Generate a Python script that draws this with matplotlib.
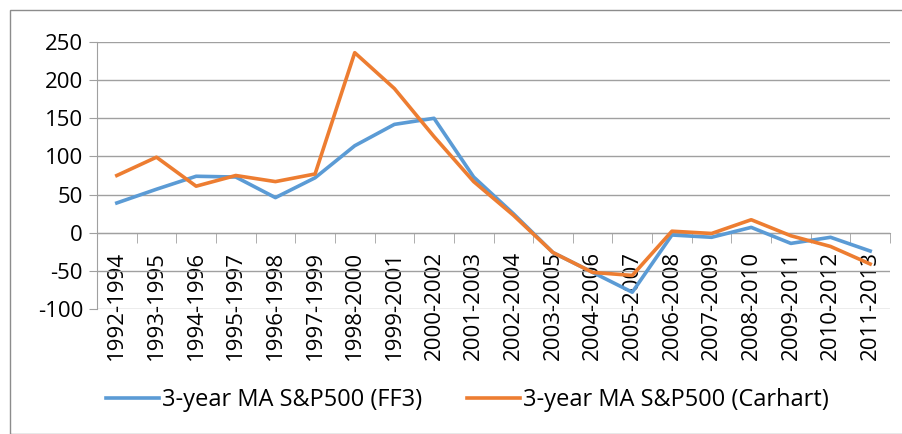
import matplotlib.pyplot as plt
import matplotlib.patches as patches
import numpy as np

# 3-year windows and moving-average values
periods = ['1992-1994', '1993-1995', '1994-1996', '1995-1997', '1996-1998',
           '1997-1999', '1998-2000', '1999-2001', '2000-2002', '2001-2003',
           '2002-2004', '2003-2005', '2004-2006', '2005-2007', '2006-2008',
           '2007-2009', '2008-2010', '2009-2011', '2010-2012', '2011-2013']
ff3 = [39, 57, 74, 73, 46, 72, 114, 142, 150, 73,
       25, -26, -52, -78, -3, -6, 7, -14, -6, -24]
carhart = [75, 99, 61, 75, 67, 77, 236, 189, 126, 67,
           23, -26, -52, -56, 2, -1, 17, -4, -18, -41]

plt.rcParams['font.family'] = ['Open Sans', 'DejaVu Sans']
plt.rcParams['axes.unicode_minus'] = False

fig = plt.figure(figsize=(9.02, 4.34), dpi=100)
ax = fig.add_axes([97 / 902, 1 - 309 / 434, (890 - 97) / 902, (309 - 42) / 434])

ax.plot(periods, ff3, color='#5B9BD5', lw=2.6, label='3-year MA S&P500 (FF3)',
        solid_joinstyle='round', zorder=3)
ax.plot(periods, carhart, color='#ED7D31', lw=2.6, label='3-year MA S&P500 (Carhart)',
        solid_joinstyle='round', zorder=4)

ax.set_xlim(-0.5, len(periods) - 0.5)
ax.set_ylim(-100, 250)
ax.set_yticks(np.arange(-100, 251, 50))
ax.yaxis.grid(True, color='#a0a0a0', lw=1)
ax.set_axisbelow(True)

for s in ['top', 'right']:
    ax.spines[s].set_visible(False)
ax.spines['left'].set_color('#a0a0a0')
ax.spines['bottom'].set_color('#a0a0a0')
ax.spines['bottom'].set_position(('data', 0))

ax.tick_params(axis='y', labelsize=16, length=6, color='#a0a0a0', pad=4)
ax.tick_params(axis='x', which='major', length=0, labelsize=16, pad=13, labelrotation=90)
ax.set_xticks(np.arange(-0.5, len(periods), 1), minor=True)
ax.tick_params(axis='x', which='minor', length=7, color='#a0a0a0')

fig.legend(loc='center', bbox_to_anchor=(0.518, 1 - 400 / 434), ncol=2, frameon=False,
           fontsize=17, handlelength=2.25, handletextpad=0.13, columnspacing=1.9)

fig.patches.append(patches.Rectangle((9.5 / 902, 0), 1, 1 - 10 / 434, transform=fig.transFigure,
                                     fill=False, edgecolor='#8c8c8c', lw=1))

fig.savefig('out.png', dpi=100)
